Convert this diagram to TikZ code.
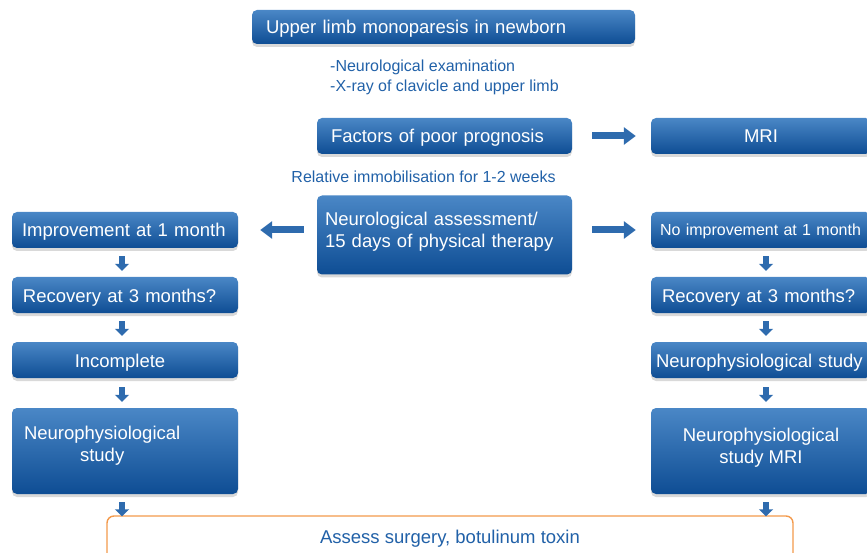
\documentclass[tikz,border=0pt]{standalone}
\usepackage{fontspec}
\setmainfont{Liberation Sans}
\usetikzlibrary{arrows.meta,shadows}
\definecolor{boxtop}{HTML}{4A87C6}
\definecolor{boxbot}{HTML}{0E4D94}
\definecolor{txtblue}{HTML}{2161A8}
\definecolor{arrblue}{HTML}{2E6BAE}
\definecolor{frameor}{HTML}{F39A4C}

\begin{document}
\begin{tikzpicture}[x=1pt,y=-1pt,
  bbox/.style={rounded corners=5pt, top color=boxtop, bottom color=boxbot, text=white,
    font=\fontsize{18.5}{22.5}\selectfont, inner ysep=0pt,
    drop shadow={shadow xshift=0pt, shadow yshift=-3pt, opacity=0.3}},
  lbox/.style={bbox, align=left, text height=14pt, text depth=0pt},
  cbox/.style={bbox, align=center},
  note/.style={text=txtblue, font=\fontsize{16}{20}\selectfont, inner sep=0pt, align=left},
  obox/.style={draw=frameor, line width=1.4pt, rounded corners=7pt, fill=white, text=txtblue,
    font=\fontsize{18.5}{23}\selectfont, minimum width=686pt, minimum height=46pt},
  harrow/.style={draw=arrblue, line width=7pt, -{Triangle[length=12pt,width=17pt]}},
  varrow/.style={draw=arrblue, line width=6pt, -{Triangle[length=7pt,width=14pt]}}]
    \useasboundingbox (0,0) rectangle (867,553);

    % top of the chart
    \node[lbox, text width=355pt, inner xsep=14pt, minimum height=34pt] (limb) at (443.5,27) {Upper limb monoparesis in newborn};
    \node[note, anchor=west] (exam) at (330,77) {-Neurological examination\\-X-ray of clavicle and upper limb};
    \node[lbox, text width=227pt, inner xsep=14pt, minimum height=36pt] (fact) at (444.5,136) {Factors of poor prognosis};
    \node[cbox, minimum width=220pt, minimum height=36pt, text height=14pt, text depth=0pt] (mri) at (761,136) {MRI};
    \node[note] (immob) at (423.5,177) {Relative immobilisation for 1-2 weeks};
    \node[bbox, align=left, text width=239pt, inner xsep=8pt, minimum height=79pt] (assess) at (444.5,235)
      {\raisebox{3pt}[\height][\depth]{\begin{tabular}{@{}l@{}}Neurological assessment/\\15 days of physical therapy\end{tabular}}};

    % left column
    \node[lbox, text width=206pt, inner xsep=10pt, minimum height=36pt] (imprL) at (125,230) {Improvement at 1 month};
    \node[lbox, text width=204pt, inner xsep=11pt, minimum height=36pt] (recL) at (125,295) {Recovery at 3 months?};
    \node[cbox, minimum width=226pt, minimum height=36pt, text height=14pt, text depth=0pt] (incompl) at (125,360) {Incomplete\hspace*{10pt}};
    \node[bbox, align=left, text width=202pt, inner xsep=12pt, minimum height=86pt] (studyL) at (125,451)
      {\raisebox{5pt}[\height][\depth]{\begin{tabular}{@{}c@{}}Neurophysiological\\study\end{tabular}}};

    % right column
    \node[lbox, text width=202pt, inner xsep=9pt, minimum height=36pt, font=\fontsize{16}{20}\selectfont, text height=12pt] (imprR) at (761,230) {No improvement at 1 month};
    \node[lbox, text width=198pt, inner xsep=11pt, minimum height=36pt] (recR) at (761,295) {Recovery at 3 months?};
    \node[lbox, text width=210pt, inner xsep=5pt, minimum height=36pt] (studyR) at (761,360) {Neurophysiological study};
    \node[cbox, minimum width=220pt, minimum height=86pt] (studyMRI) at (761,451)
      {\raisebox{3pt}[\height][\depth]{\begin{tabular}{@{}c@{}}Neurophysiological\\study MRI\end{tabular}}};

    % bottom
    \node[obox] (surg) at (450,539) {Assess surgery, botulinum toxin};

    \draw[harrow, shorten <=20pt, shorten >=15pt] (fact) -- (mri);
    \draw[harrow, shorten <=13pt, shorten >=22pt] (assess.west |- imprL.east) -- (imprL.east);
    \draw[harrow, shorten <=20pt, shorten >=15pt] (assess.east |- imprR.west) -- (imprR.west);

    \draw[varrow, shorten <=8pt, shorten >=6pt] ([xshift=-3pt]imprL.south) -- ([xshift=-3pt]recL.north);
    \draw[varrow, shorten <=8pt, shorten >=6pt] ([xshift=-3pt]recL.south) -- ([xshift=-3pt]incompl.north);
    \draw[varrow, shorten <=9pt, shorten >=6pt] ([xshift=-3pt]incompl.south) -- ([xshift=-3pt]studyL.north);
    \draw[varrow, shorten <=8pt, shorten >=-1pt] ([xshift=-3pt]studyL.south) -- ([xshift=-3pt]studyL.south |- surg.north);

    \draw[varrow, shorten <=8pt, shorten >=6pt] ([xshift=5pt]imprR.south) -- ([xshift=5pt]recR.north);
    \draw[varrow, shorten <=8pt, shorten >=6pt] ([xshift=5pt]recR.south) -- ([xshift=5pt]studyR.north);
    \draw[varrow, shorten <=9pt, shorten >=6pt] ([xshift=5pt]studyR.south) -- ([xshift=5pt]studyMRI.north);
    \draw[varrow, shorten <=8pt, shorten >=-1pt] ([xshift=5pt]studyMRI.south) -- ([xshift=5pt]studyMRI.south |- surg.north);
\end{tikzpicture}
\end{document}
